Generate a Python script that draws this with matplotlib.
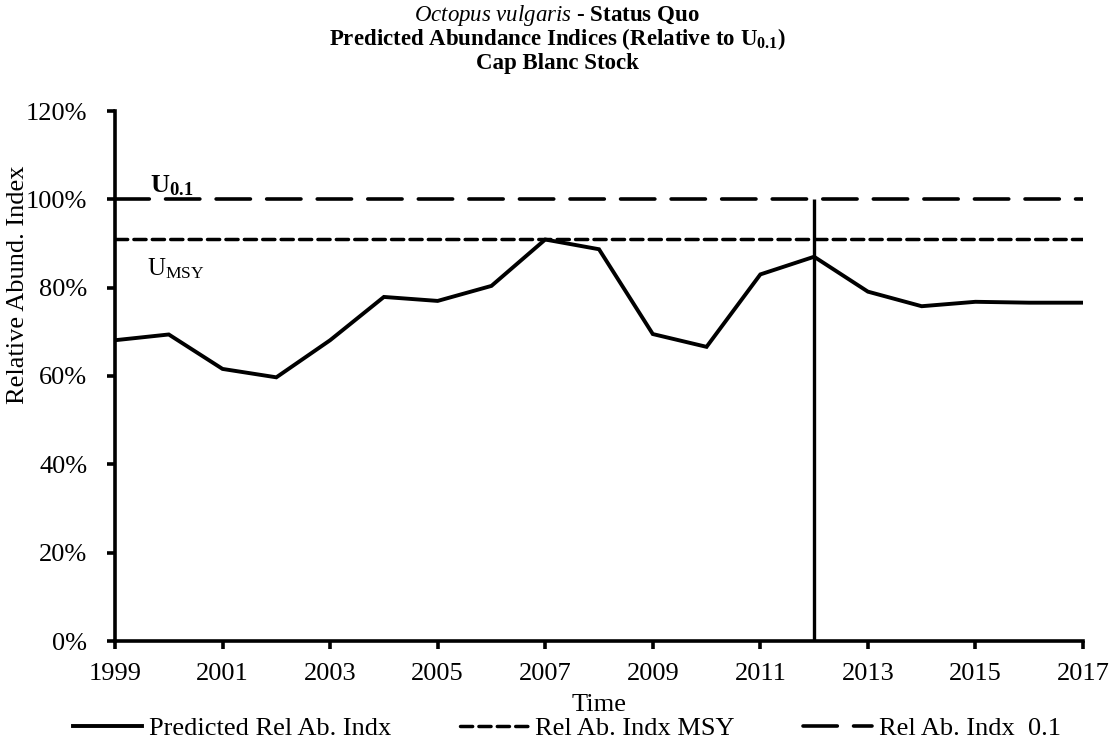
import matplotlib
matplotlib.use("Agg")
import matplotlib.pyplot as plt
from matplotlib.ticker import PercentFormatter

# Predicted relative abundance index (fraction of U0.1), Cap Blanc stock
years = list(range(1999, 2018))
predicted = [0.681, 0.694, 0.616, 0.597, 0.681, 0.779, 0.770, 0.804, 0.909,
             0.887, 0.695, 0.666, 0.830, 0.870, 0.791, 0.758, 0.768, 0.766, 0.766]
ref_msy = 0.91
ref_u01 = 1.00
cutoff_year = 2012

x_ticks = list(range(1999, 2018, 2))
y_ticks = [0, 0.2, 0.4, 0.6, 0.8, 1.0, 1.2]

plt.rcParams["font.family"] = ["Liberation Serif", "DejaVu Serif"]
plt.rcParams["mathtext.fontset"] = "custom"
plt.rcParams["mathtext.rm"] = "Liberation Serif"
plt.rcParams["mathtext.it"] = "Liberation Serif:italic"
plt.rcParams["mathtext.bf"] = "Liberation Serif:bold"

W, H = 1115, 746
fig = plt.figure(figsize=(W / 100, H / 100), dpi=100)
# plot area: x 115..1083 px, y 111..641 px
ax = fig.add_axes([115 / W, 1 - 641 / H, (1083 - 115) / W, (641 - 111) / H])

ax.plot(years, predicted, color="black", lw=2.8, solid_joinstyle="miter",
        label="Predicted Rel Ab. Indx")
ax.plot([years[0], years[-1]], [ref_msy, ref_msy], color="black", lw=2.5,
        dashes=(3.5, 1.8), dash_capstyle="round", label="Rel Ab. Indx MSY")
ax.plot([years[0], years[-1]], [ref_u01, ref_u01], color="black", lw=2.6,
        dashes=(9.5, 4.5), dash_capstyle="round", label="Rel Ab. Indx  0.1")
ax.vlines(cutoff_year, 0, ref_u01, color="black", lw=2.4)

ax.text(1999.65, ref_u01 + 0.004, r"$\mathbf{U_{0.1}}$", fontsize=19,
        ha="left", va="bottom")
ax.text(1999.6, 0.843, r"U$_{\mathrm{MSY}}$", fontsize=18, ha="left",
        va="center")

ax.set_xlim(1999, 2017)
ax.set_ylim(0, 1.2)
ax.set_xticks(x_ticks)
ax.set_yticks(y_ticks)
ax.yaxis.set_major_formatter(PercentFormatter(1.0, decimals=0))
for side in ("top", "right"):
    ax.spines[side].set_visible(False)
for side in ("left", "bottom"):
    ax.spines[side].set_linewidth(2.6)
ax.tick_params(axis="both", direction="out", length=6, width=2.6,
               labelsize=19)
ax.tick_params(axis="y", pad=14)
ax.tick_params(axis="x", pad=10)

fig.text(18 / W, 1 - 285 / H, "Relative Abund. Index", rotation=90,
         ha="center", va="center", fontsize=19)
fig.text(599 / W, 1 - 705 / H, "Time", ha="center", va="center", fontsize=19)

tx = 557 / W
fig.text(tx, 1 - 15 / H, r"$\mathit{Octopus\ vulgaris}$ - Status Quo",
         ha="center", va="center", fontsize=16.5, fontweight="bold")
fig.text(tx, 1 - 39 / H,
         r"Predicted Abundance Indices (Relative to $\mathbf{U_{0.1}}$)",
         ha="center", va="center", fontsize=16.5, fontweight="bold")
fig.text(tx, 1 - 64 / H, "Cap Blanc Stock", ha="center", va="center",
         fontsize=16.5, fontweight="bold")

fig.legend(loc="center", bbox_to_anchor=(567 / W, 1 - 728 / H), ncol=3,
           frameon=False, fontsize=19, handlelength=2.6, handletextpad=0.27,
           columnspacing=2.6, borderpad=0)

fig.savefig("out.png", dpi=100)
